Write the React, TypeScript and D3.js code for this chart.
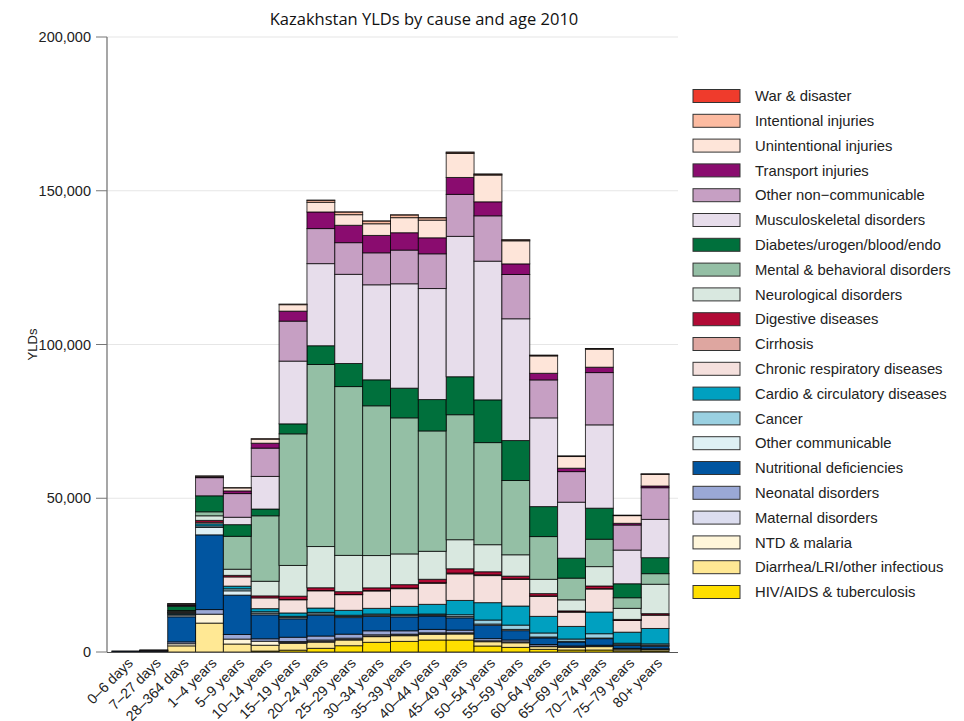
import React from "react";
import * as d3 from "d3";

const ageGroups = ["0–6 days","7–27 days","28–364 days","1–4 years","5–9 years","10–14 years","15–19 years","20–24 years","25–29 years","30–34 years","35–39 years","40–44 years","45–49 years","50–54 years","55–59 years","60–64 years","65–69 years","70–74 years","75–79 years","80+ years"];

// Causes from bottom of the stack to the top
const causes = ["HIV/AIDS & tuberculosis","Diarrhea/LRI/other infectious","NTD & malaria","Maternal disorders","Neonatal disorders","Nutritional deficiencies","Other communicable","Cancer","Cardio & circulatory diseases","Chronic respiratory diseases","Cirrhosis","Digestive diseases","Neurological disorders","Mental & behavioral disorders","Diabetes/urogen/blood/endo","Musculoskeletal disorders","Other non−communicable","Transport injuries","Unintentional injuries","Intentional injuries","War & disaster"];

const causeColors = ["#FFDF00","#FFE894","#FFF6DA","#DCDDEF","#9AA8D6","#0155A0","#DEF0F4","#9AD0E1","#00A0C0","#F5E0DD","#DEA6A0","#B10A35","#D9E8E0","#94BFA5","#00703C","#E7DDEB","#C69FC3","#8A0C6F","#FEE5D9","#FCBBA1","#EF3B2C"];

const hivTb = [0,0,0,0,0,300,600,1200,2050,3150,3450,3900,3900,1950,1500,870,650,650,400,350];
const diarrhea = [50,100,2000,9400,2600,1900,2200,2000,1850,1850,1850,1850,1950,1400,1500,870,870,1100,500,450];
const ntd = [0,50,700,2900,1600,1300,300,300,200,200,200,200,200,300,300,200,150,150,200,150];
const maternal = [0,0,0,0,0,0,300,400,400,400,300,300,200,0,0,0,0,0,0,0];
const neonatal = [200,300,600,1500,1500,800,1400,1300,1300,1300,1100,1100,870,700,600,500,300,300,100,100];
const nutritional = [50,100,8150,24300,12800,7800,6000,6800,5400,4650,4550,4350,4000,4350,3050,2150,1300,2150,900,870];
const otherComm = [0,30,550,2400,1400,500,400,400,350,400,400,300,400,400,400,300,200,200,300,300];
const cancer = [0,0,300,500,650,500,400,500,400,400,400,350,600,1300,1400,1300,750,1400,450,430];
const cardio = [0,0,300,700,870,1000,1100,1400,1600,1850,2600,3150,4650,5650,6200,5400,4100,7050,3600,5000];
const chronicResp = [0,0,200,500,3000,3500,4300,5600,5100,5650,5750,6850,8650,8800,8650,6500,4650,7500,3800,4350];
const cirrhosis = [0,0,0,0,0,0,50,100,100,150,200,200,250,250,200,150,100,100,50,50];
const digestive = [0,0,100,600,500,650,1100,900,870,870,1100,1100,1400,1000,870,750,300,870,300,430];
const neurological = [0,0,300,1500,2000,4750,10000,13400,11800,10500,10000,9100,9450,8800,6950,4650,3600,6300,3600,9550];
const mental = [0,0,300,1300,10700,21300,42800,59200,54900,48700,44250,39150,40650,33200,24150,13900,7050,8900,3450,3450];
const diabetes = [0,0,1400,5200,3800,2200,3250,6100,7500,8450,9650,10200,12350,13900,13000,9750,6500,10100,4550,5200];
const musculoskeletal = [0,0,100,0,2400,10600,20400,26700,29000,30900,33950,36100,45650,45100,39600,28850,18200,27100,10950,12450];
const otherNcd = [0,50,200,5900,7700,9200,13000,11400,10300,10400,10950,11300,13650,14750,14400,12350,9950,17000,8150,10300];
const transport = [0,0,200,200,870,1600,3250,5400,5650,5650,5650,5200,5500,4550,3450,2150,1100,1750,550,550];
const unintentional = [0,0,300,300,980,1300,2100,3150,3450,3800,4900,5750,7800,8700,7500,5650,3800,5850,2500,3800];
const intentional = [0,0,50,50,100,200,200,650,850,870,870,760,400,300,300,200,150,200,100,100];
const war = [0,0,0,0,0,0,0,30,30,30,30,30,30,30,20,20,10,10,10,10];

const seriesValues = [hivTb,diarrhea,ntd,maternal,neonatal,nutritional,otherComm,cancer,cardio,chronicResp,cirrhosis,digestive,neurological,mental,diabetes,musculoskeletal,otherNcd,transport,unintentional,intentional,war];

const yTicks = [0,50000,100000,150000,200000];

export default function App() {
  const W = 964, H = 721;
  const x = d3.scaleBand<string>().domain(ageGroups).range([112, 669]).padding(0);
  const y = d3.scaleLinear().domain([0, 200000]).range([652, 37]);
  const table = ageGroups.map((a, i) => {
    const row: any = { age: a };
    causes.forEach((c, k) => { row[c] = seriesValues[k][i]; });
    return row;
  });
  const stacked = d3.stack<any>().keys(causes)(table);
  const fmt = d3.format(",");
  const legendCauses = causes.slice().reverse();
  const legendColors = causeColors.slice().reverse();
  const font = "'Liberation Sans', Arial, sans-serif";

  return (
    <svg width={W} height={H} style={{ position: "absolute", left: 0, top: 0, background: "#fff" }}>
      <text x={424} y={25} textAnchor="middle" fontFamily="'Open Sans', sans-serif" fontSize={16.5} fill="#111">
        Kazakhstan YLDs by cause and age 2010
      </text>
      {yTicks.filter(t => t > 0).map(t => (
        <line key={"g" + t} x1={107} x2={678} y1={y(t)} y2={y(t)} stroke="#e6e6e6" strokeWidth={1.2} />
      ))}
      {stacked.map((layer, k) => (
        <g key={causes[k]} fill={causeColors[k]}>
          {layer.map((d, i) => {
            const h = y(d[0]) - y(d[1]);
            if (h <= 0) return null;
            return (
              <rect key={i} x={x(ageGroups[i])!} width={x.bandwidth()} y={y(d[1])} height={h}
                stroke="#000" strokeOpacity={0.75} strokeWidth={1} />
            );
          })}
        </g>
      ))}
      <line x1={107} x2={107} y1={y(200000)} y2={y(0)} stroke="#777" strokeWidth={1.3} />
      <line x1={107} x2={678} y1={y(0) + 0.5} y2={y(0) + 0.5} stroke="#555" strokeWidth={1.2} />
      {yTicks.map(t => (
        <g key={"t" + t}>
          <line x1={96} x2={107} y1={y(t)} y2={y(t)} stroke="#777" strokeWidth={1} />
          <text x={91} y={y(t)} dy="0.35em" textAnchor="end" fontFamily={font} fontSize={14.5} fill="#222">{fmt(t)}</text>
        </g>
      ))}
      <text transform={`translate(37,${y(100000)}) rotate(-90)`} textAnchor="middle" fontFamily={font} fontSize={13} fill="#222">YLDs</text>
      {ageGroups.map(a => (
        <text key={a} transform={`translate(${x(a)! + x.bandwidth() / 2 + 8},${664}) rotate(-45)`} textAnchor="end"
          fontFamily={font} fontSize={14.3} fill="#222">{a}</text>
      ))}
      {legendCauses.map((c, i) => (
        <g key={c} transform={`translate(693,${96 + i * 24.8})`}>
          <rect x={0} y={-6.5} width={47} height={13} fill={legendColors[i]} stroke="#333" strokeWidth={1} />
          <text x={62} y={0} dy="0.35em" fontFamily={font} fontSize={14.8} fill="#222">{c}</text>
        </g>
      ))}
    </svg>
  );
}
